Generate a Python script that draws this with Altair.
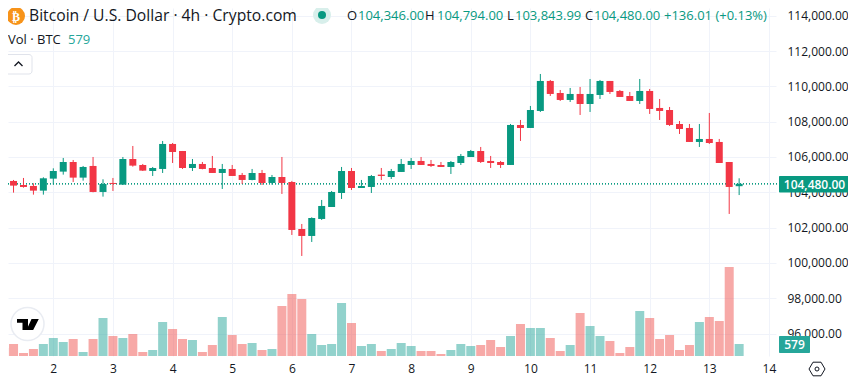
import altair as alt
import pandas as pd

FONT = "Open Sans"
UP, DOWN = "#089981", "#F23645"
VUP, VDOWN = "#26a69a", "#ef5350"
INK = "#131722"
GRID = "#f0f3fa"

opens = [104755,104642,104415,104359,104094,104774,105171,105718,104831,105492,104019,104529,104434,105888,105548,
         105208,105322,106738,106341,105378,105605,105378,105095,105322,104982,104699,105095,104529,104868,104585,
         101923,101527,102490,103169,103962,105208,104245,104302,105001,104868,105152,105548,105775,105605,105548,
         105435,105661,106001,106341,105775,105718,105548,107814,107644,108607,110306,109626,109230,109570,109003,
         109513,110306,109740,109456,109173,109740,108777,108663,107870,107644,106851,107021,106851,105718,104346]
highs = [104982,104699,104812,104510,104850,105359,105945,105831,105492,106001,104736,104812,106001,106624,105605,
         105435,106907,106794,106341,105888,105718,106058,105605,105548,105095,105322,105265,104982,106001,104642,
         102206,102584,103566,104076,105435,105378,104699,104982,105378,105322,105888,105945,106001,105831,105718,
         105775,106171,106398,106568,106058,105775,107870,108097,108890,110702,110363,109796,109909,109966,110419,
         110363,110306,109796,109683,110419,109853,109286,108833,108040,107870,107870,108493,107021,105718,104794]
lows = [104548,103981,104264,103868,103868,104434,105001,104585,104661,104000,103755,104076,104415,105454,105208,
        104925,105095,105661,105322,105208,105303,105095,104189,104925,104472,104680,104415,104434,103906,101583,
        100394,101187,102433,103169,103622,104132,104245,103962,104699,104755,105152,105322,105548,105435,105435,
        105038,105548,106001,105661,105378,105378,105548,106908,107644,108550,109456,109173,109116,108380,108550,
        109286,109570,109400,109173,109003,108437,108097,107757,107304,106851,106568,106738,105661,102773,103844]
closes = [104585,104378,104302,104094,104793,105208,105718,104831,105435,104019,104472,104472,105888,105510,105227,
          105378,106738,106284,105378,105605,105322,105095,105322,104925,104699,105095,104529,104868,104529,101867,
          101527,102546,103226,104019,105208,104245,104359,104925,104925,105208,105605,105775,105548,105492,105435,
          105718,106058,106341,105718,105661,105548,107814,107644,108663,110306,109570,109230,109570,109003,109570,
          110306,109683,109400,109173,109740,108720,108607,107814,107587,106851,107021,106794,105661,104302,104480]
volumes = [386,579,145,338,579,869,676,820,193,820,1834,965,869,1062,193,
           290,1641,1303,820,772,193,531,1882,1013,579,627,290,338,2413,2992,
           2750,1062,531,579,2557,1592,483,579,241,338,627,483,241,241,97,
           290,579,483,531,772,434,965,1544,1351,1351,869,241,531,2075,1448,
           965,724,145,434,2171,1834,820,1013,290,531,1641,1882,1689,4294,579]
candle_offsets = list(range(-5, 70))
day_ticks = [2, 3, 4, 5, 6, 7, 8, 9, 10, 11, 12, 13, 14]
price_ticks = [96000, 98000, 100000, 102000, 104000, 106000, 108000, 110000, 112000, 114000]
last_price = 104480

df = pd.DataFrame({
    "day": [2 + k / 6 for k in candle_offsets],
    "o": opens, "h": highs, "l": lows, "c": closes, "v": volumes,
    "dir": ["up" if c >= o else "down" for o, c in zip(opens, closes)],
})

W, H = 768, 348
x_scale = alt.Scale(domain=[1.2404, 14.118], nice=False, zero=False, padding=0)
y_scale = alt.Scale(domain=[94728, 114439], nice=False, zero=False)
v_scale = alt.Scale(domain=[0, 16791], nice=False, zero=False)
x_enc = alt.X("day:Q", scale=x_scale, title=None,
              axis=alt.Axis(values=day_ticks, format="d", grid=True, gridColor=GRID, gridWidth=1,
                            domain=False, ticks=False, labelColor=INK, labelFont=FONT, labelFontSize=12,
                            labelPadding=7, labelFlush=False, labelOverlap=False))
color_candle = alt.Color("dir:N", scale=alt.Scale(domain=["up", "down"], range=[UP, DOWN]), legend=None)
color_vol = alt.Color("dir:N", scale=alt.Scale(domain=["up", "down"], range=[VUP, VDOWN]), legend=None)

volume = alt.Chart(df).mark_bar(size=9, opacity=0.5).encode(
    x=x_enc,
    y=alt.Y("v:Q", scale=v_scale, axis=None),
    color=color_vol,
)

price_grid = alt.Chart(df).mark_rule(size=1, opacity=0).encode(
    x=x_enc,
    y=alt.Y("c:Q", scale=y_scale, title=None,
            axis=alt.Axis(values=price_ticks, format=",.2f", orient="right", grid=True, gridColor=GRID,
                          gridWidth=1, domain=False, ticks=False, labelColor=INK, labelFont=FONT,
                          labelFontSize=12, labelPadding=11, labelFlush=False, labelOverlap=False)),
)
last_line = alt.Chart(df).transform_filter(alt.datum.day > 13).transform_calculate(lp=str(last_price)).mark_rule(
    color=UP, size=1, strokeDash=[1, 2]
).encode(
    x=alt.value(0), x2=alt.value(W + 4),
    y=alt.Y("lp:Q", scale=y_scale, axis=None),
)
wicks = alt.Chart(df).mark_rule(size=1).encode(
    x=x_enc,
    y=alt.Y("l:Q", scale=y_scale, axis=None),
    y2="h:Q",
    color=color_candle,
)
bodies = alt.Chart(df).mark_bar(size=7).encode(
    x=x_enc,
    y=alt.Y("o:Q", scale=y_scale, axis=None),
    y2="c:Q",
    color=color_candle,
)

one = pd.DataFrame({"a": [0]})


def label(text, x, y, color=INK, size=13, weight="normal", align="left", font=FONT):
    return alt.Chart(one).mark_text(text=text, color=color, fontSize=size, fontWeight=weight, align=align,
                                    baseline="middle", font=font, clip=False).encode(
        x=alt.value(x - 8), y=alt.value(y - 8))


def box(x0, x1, y0, y1, fill, stroke=None, radius=0):
    kw = {"cornerRadius": radius} if radius else {}
    if stroke:
        kw["stroke"] = stroke
    return alt.Chart(one).mark_rect(fill=fill, **kw).encode(
        x=alt.value(x0 - 8), x2=alt.value(x1 - 8), y=alt.value(y0 - 8), y2=alt.value(y1 - 8))


def dot(x, y, r, fill=None, stroke=None, shape="circle", filled=True, width=1):
    kw = {"stroke": stroke, "strokeWidth": width} if stroke else {"strokeWidth": 0}
    if fill:
        kw["fill"] = fill
    return alt.Chart(one).mark_point(shape=shape, size=(2 * r) ** 2, filled=filled, opacity=1, **kw).encode(
        x=alt.value(x - 8), y=alt.value(y - 8))


logo_path = ("M-1,-0.5L0,-0.5L0,0.5L-0.5,0.5L-0.5,-0.15L-1,-0.15Z"
             "M0.32,-0.5L0.98,-0.5L0.47,0.5L-0.14,0.5Z")
deco = [
    dot(16, 16, 9, fill="#f7931a"),
    label("₿", 16, 16.5, color="#ffffff", size=12, weight="bold", align="center", font="DejaVu Sans"),
    label("Bitcoin / U.S. Dollar · 4h · Crypto.com", 29, 15.5, size=15.7),
    dot(322, 15, 9, fill="#d8efeb"),
    dot(322, 15, 4, fill=UP),
    label("O", 347, 15.5),
    label("104,346.00", 358, 15.5, color=UP),
    label("H", 425, 15.5),
    label("104,794.00", 437, 15.5, color=UP),
    label("L", 507, 15.5),
    label("103,843.99", 515, 15.5, color=UP),
    label("C", 585, 15.5),
    label("104,480.00", 594, 15.5, color=UP),
    label("+136.01 (+0.13%)", 664, 15.5, color=UP),
    label("Vol · BTC", 8, 39.5),
    label("579", 68, 39.5, color=VUP),
    box(5, 32, 54.5, 74, "#ffffff", stroke="#e0e3eb", radius=3),
    dot(18.5, 64, 4, stroke=INK, shape="M-1,0.5L0,-0.5L1,0.5", filled=False, width=1.3),
    dot(27.5, 324, 16.5, fill="#ffffff", stroke="#e9ecf2", width=1.5),
    dot(28, 324.5, 11, fill="#000000", shape=logo_path),
    box(779, 850, 176, 192.5, UP, radius=1),
    label("104,480.00", 814.5, 184.5, color="#ffffff", align="center", size=12, weight=600),
    box(779, 810, 336, 353, VUP, radius=1),
    label("579", 794.5, 344.5, color="#ffffff", align="center", size=12, weight=600),
    dot(817, 369, 8, stroke=INK, shape="M-1,0L-0.5,-0.85L0.5,-0.85L1,0L0.5,0.85L-0.5,0.85Z", filled=False, width=1),
    dot(817, 369, 2, stroke=INK, filled=False, width=1),
]

chart = (
    alt.layer(volume, price_grid, last_line, wicks, bodies, *deco)
    .resolve_scale(y="independent", color="independent")
    .properties(width=W, height=H, autosize=alt.AutoSizeParams(type="none"),
                padding={"left": 0, "top": 0, "right": 72, "bottom": 24}, background="#ffffff")
    .configure_view(stroke=None)
)
chart.save("out.html", embed_options={"renderer": "svg", "actions": False})
